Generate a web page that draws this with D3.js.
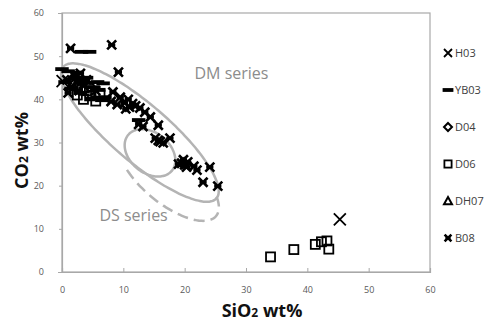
<!DOCTYPE html>
<html>
<head>
<meta charset="utf-8">
<script src="https://cdn.jsdelivr.net/npm/d3@7"></script>
<style>
  body { margin: 0; background: #fff; }
  svg { font-family: "Open Sans", "Liberation Sans", sans-serif; }
</style>
</head>
<body>
<div id="chart"></div>
<script>
var width = 495, height = 325;
var margin = {left: 62, top: 13, right: 65, bottom: 53};

// data, [SiO2, CO2]
var seriesNames = ["H03", "YB03", "D04", "D06", "DH07", "B08"];
var h03 = [[45.3, 12.2], [0.1, 44.2]];
var yb03 = [[0, 47], [3.2, 51], [4.5, 51], [1, 46.5], [2, 45], [3, 44.3], [4.2, 43.8], [5, 42.8],
            [6, 42.2], [7, 40.5], [6.7, 43.7], [6.5, 39.8], [12.5, 35.2], [1.5, 42.5], [3, 41.5],
            [5, 40.2], [2.5, 46.2], [4, 45], [5.8, 44], [0.5, 44]];
var d04 = [[2, 43.5], [4.5, 43]];
var d06 = [[2.5, 41], [3.5, 40], [4.5, 40.8], [5.5, 39.6], [6.2, 41], [3, 42.8], [1.8, 43.5], [4, 42],
           [34, 3.5], [37.8, 5.2], [41.3, 6.4], [42.3, 7], [43.2, 7.2], [43.5, 5.3]];
var dh07 = [[3.5, 42.5]];
var b08 = [[1.4, 51.8], [8.1, 52.6], [9.2, 46.3],
           [0.8, 44.5], [1.5, 43], [2, 45.5], [2.5, 44], [3, 46], [3.5, 43.5], [1, 41.5], [4, 44.5], [2.8, 42], [5.5, 42],
           [8.3, 41.7], [9.5, 40.5], [10.2, 39.2], [10.8, 40], [11.5, 39], [12, 38.5], [12.7, 38], [13.5, 37],
           [9, 38.8], [10.4, 37.8], [11, 38.2], [14.4, 35.9], [8, 39.5], [12.5, 34.2], [13.2, 33.7],
           [15.7, 34], [17.6, 31], [15.7, 30.5], [16.5, 29.9], [15.2, 31], [16, 30.2],
           [19.5, 25.2], [20, 24.8], [20.5, 25.5], [19.8, 26], [20.3, 24.3], [21.5, 24.5], [22, 23.6],
           [24.1, 24.3], [23, 20.8], [25.4, 19.9], [19, 25]];
var xTicks = [0, 10, 20, 30, 40, 50, 60];
var yTicks = [0, 10, 20, 30, 40, 50, 60];

// field outlines: centre, half axis a, half axis b (data units), drawn between angles t0..t1
var dmField = {c: [12.7, 32.3], a: [12.5, -15.2], b: [3.0, 5.1], t0: 0, t1: 360};
var dsCore = {c: [14.35, 27.6], a: [4.08, -2.55], b: [0.65, 4.86], t0: 0, t1: 360};
var dsField = {c: [17.45, 21.8], a: [7.75, -8.69], b: [2.45, 4.86], t0: 230, t1: 395};

var svg = d3.select("#chart").append("svg")
  .attr("width", width)
  .attr("height", height);

var x = d3.scaleLinear().domain([0, 60]).range([margin.left, width - margin.right]);
var y = d3.scaleLinear().domain([0, 60]).range([height - margin.bottom, margin.top]);

var grey = "#b4b4b4";

// frame
svg.append("rect")
  .attr("x", x(0)).attr("y", y(60))
  .attr("width", x(60) - x(0)).attr("height", y(0) - y(60))
  .attr("fill", "none").attr("stroke", "#a8a8a8").attr("stroke-width", 1.2);

var xAxis = svg.append("g")
  .attr("transform", "translate(0," + y(0) + ")")
  .call(d3.axisBottom(x).tickValues(xTicks).tickSize(-4).tickPadding(15));
var yAxis = svg.append("g")
  .attr("transform", "translate(" + x(0) + ",0)")
  .call(d3.axisLeft(y).tickValues(yTicks).tickSize(4).tickPadding(14));
[xAxis, yAxis].forEach(function(a) {
  a.select(".domain").attr("stroke", "#a8a8a8").attr("stroke-width", 1.2);
  a.selectAll(".tick line").attr("stroke", "#a8a8a8");
  a.selectAll(".tick text").attr("fill", "#5a5a5a").style("font-size", "9px")
    .style("font-family", "'Open Sans', sans-serif");
});
yAxis.selectAll(".tick line").attr("x2", -3);

// outlines
function ellipsePts(f) {
  return d3.range(f.t0, f.t1 + 1, 3).map(function(deg) {
    var t = deg * Math.PI / 180;
    return [f.c[0] + f.a[0] * Math.cos(t) + f.b[0] * Math.sin(t),
            f.c[1] + f.a[1] * Math.cos(t) + f.b[1] * Math.sin(t)];
  });
}
var line = d3.line().x(function(d) { return x(d[0]); }).y(function(d) { return y(d[1]); })
  .curve(d3.curveCatmullRom);

svg.append("path").attr("d", line(ellipsePts(dmField)))
  .attr("fill", "none").attr("stroke", grey).attr("stroke-width", 2.5);
svg.append("path").attr("d", line(ellipsePts(dsCore)))
  .attr("fill", "none").attr("stroke", grey).attr("stroke-width", 2.5);
svg.append("path").attr("d", line(ellipsePts(dsField)))
  .attr("fill", "none").attr("stroke", grey).attr("stroke-width", 2.5)
  .attr("stroke-dasharray", "11,6");

svg.append("text").attr("x", x(21.6)).attr("y", y(44.6))
  .attr("fill", "#8c8c8c").style("font-size", "16px").text("DM series");
svg.append("text").attr("x", x(6.1)).attr("y", y(11.8))
  .attr("fill", "#8c8c8c").style("font-size", "16px").text("DS series");

// markers
function drawMarker(g, type, s) {
  if (type === "H03") {
    g.append("path").attr("d", "M" + (-s) + "," + (-s) + "L" + s + "," + s + "M" + (-s) + "," + s + "L" + s + "," + (-s))
      .attr("stroke", "#000").attr("stroke-width", 1.8).attr("fill", "none");
  } else if (type === "YB03") {
    g.append("rect").attr("x", -s * 1.35).attr("y", -1.9).attr("width", s * 2.7).attr("height", 3.8).attr("fill", "#000");
  } else if (type === "D04") {
    g.append("path").attr("d", "M0," + (-s) + "L" + s + ",0L0," + s + "L" + (-s) + ",0Z")
      .attr("stroke", "#000").attr("stroke-width", 2).attr("fill", "none");
  } else if (type === "D06") {
    g.append("rect").attr("x", -s * 0.9).attr("y", -s * 0.9).attr("width", s * 1.8).attr("height", s * 1.8)
      .attr("stroke", "#000").attr("stroke-width", 1.8).attr("fill", "none");
  } else if (type === "DH07") {
    g.append("path").attr("d", "M0," + (-s) + "L" + s + "," + s * 0.8 + "L" + (-s) + "," + s * 0.8 + "Z")
      .attr("stroke", "#000").attr("stroke-width", 2).attr("fill", "none");
  } else if (type === "B08") {
    var k = s * 0.85;
    g.append("path").attr("d", "M" + (-k) + "," + (-k) + "L" + k + "," + k + "M" + (-k) + "," + k + "L" + k + "," + (-k) +
        "M" + (-k * 0.8) + ",0L" + k * 0.8 + ",0")
      .attr("stroke", "#000").attr("stroke-width", 2.6).attr("fill", "none");
  }
}

var series = [
  {name: "D06", pts: d06, s: 5},
  {name: "D04", pts: d04, s: 5},
  {name: "DH07", pts: dh07, s: 5},
  {name: "YB03", pts: yb03, s: 5},
  {name: "B08", pts: b08, s: 5.3},
  {name: "H03", pts: h03, s: 6}
];
series.forEach(function(sr) {
  svg.append("g").selectAll("g").data(sr.pts).enter().append("g")
    .attr("transform", function(d) { return "translate(" + x(d[0]) + "," + y(d[1]) + ")"; })
    .each(function() { drawMarker(d3.select(this), sr.name, sr.s); });
});

// legend
var legend = svg.append("g").selectAll("g").data(seriesNames).enter().append("g")
  .attr("transform", function(d, i) { return "translate(448," + (53 + i * 37) + ")"; });
legend.each(function(d) { drawMarker(d3.select(this), d, 4); });
legend.append("text").attr("x", 7).attr("y", 4)
  .attr("fill", "#404040").style("font-size", "11px").text(function(d) { return d; });

// axis titles
svg.append("text").attr("x", (x(0) + x(60)) / 2 + 16).attr("y", 317).attr("text-anchor", "middle")
  .style("font-size", "18px").style("font-weight", "bold").attr("fill", "#111")
  .html("SiO<tspan font-size='12px'>2</tspan> wt%");
svg.append("text").attr("transform", "translate(28," + (y(30) + 8) + ") rotate(-90)").attr("text-anchor", "middle")
  .style("font-size", "18px").style("font-weight", "bold").attr("fill", "#111")
  .html("CO<tspan font-size='12px'>2</tspan> wt%");
</script>
</body>
</html>
